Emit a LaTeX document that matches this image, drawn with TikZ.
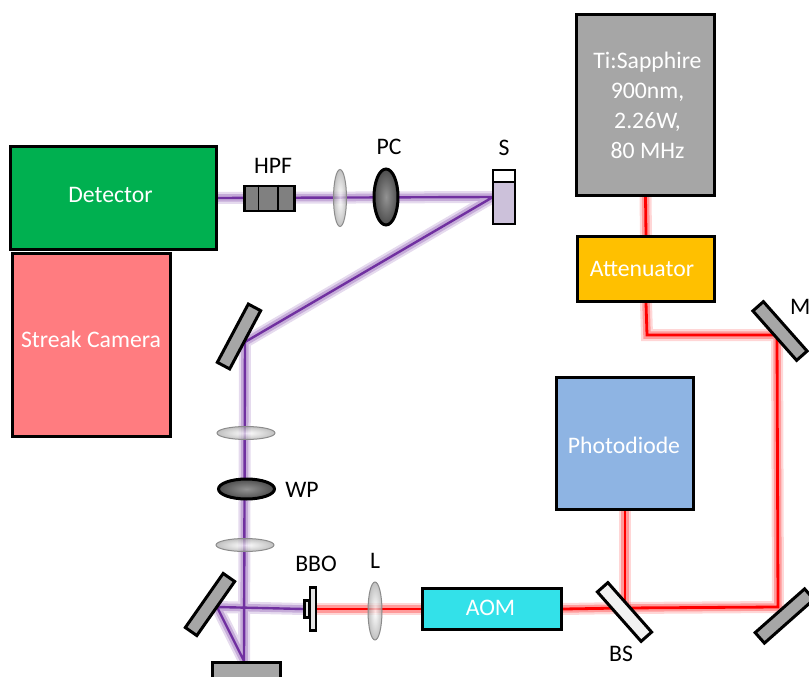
\documentclass[tikz,border=0pt]{standalone}
\usepackage{fontspec}
\setmainfont{Carlito}
\usetikzlibrary{shapes.geometric,backgrounds}
\definecolor{boxgray}{HTML}{A6A6A6}
\definecolor{attencol}{HTML}{FFC000}
\definecolor{pdcol}{HTML}{8EB4E3}
\definecolor{aomcol}{HTML}{33E1E9}
\definecolor{detcol}{HTML}{00B050}
\definecolor{streakcol}{HTML}{FF7C80}
\definecolor{beampurple}{HTML}{7030A0}
\definecolor{cuvcol}{HTML}{CCC1DA}
\tikzset{>=latex}
\tikzset{
    box/.style={draw=black,line width=3pt,inner sep=0pt},
    boxtxt/.style={inner sep=0pt,text=white,align=center,font=\fontsize{23.7}{29.8}\selectfont},
    lbl/.style={inner sep=0pt,font=\fontsize{23.7}{29.5}\selectfont},
    mirror/.style={draw=black,line width=3pt,fill=boxgray,inner sep=0pt,minimum width=66pt,minimum height=14pt},
    lens/.style={ellipse,draw=gray!90,line width=1pt,inner sep=0pt,inner color=white,outer color=gray!70,fill opacity=0.7},
    darklens/.style={ellipse,draw=black,line width=3pt,inner sep=0pt,inner color=gray!85,outer color=black!70},
    redbeam/.style={preaction={draw=red,opacity=0.16,line width=12pt},preaction={draw=red,opacity=0.28,line width=7.5pt},draw=red,line width=2.8pt},
    purplebeam/.style={preaction={draw=beampurple,opacity=0.18,line width=12pt},preaction={draw=beampurple,opacity=0.28,line width=7.5pt},draw=beampurple,line width=2.4pt}
}
\begin{document}
\begin{tikzpicture}[x=1pt,y=-1pt]
    \useasboundingbox (0,0) rectangle (809,677);
    \node[box,fill=boxgray,minimum width=138pt,minimum height=181pt] (ti) at (645.5,105) {};
    \node[box,fill=attencol,minimum width=137pt,minimum height=65pt] (atten) at (646,269) {};
    \node[box,fill=pdcol,minimum width=137pt,minimum height=132pt] (pd) at (625,443.5) {};
    \node[box,fill=aomcol,minimum width=139pt,minimum height=41pt] (aom) at (492,609) {};
    \node[box,fill=detcol,minimum width=206pt,minimum height=103pt] (det) at (113.5,198) {};
    \node[box,fill=streakcol,minimum width=158pt,minimum height=183pt] (streak) at (91.5,345) {};
    \node[boxtxt] (titxt) at (647.5,105.5) {Ti:Sapphire\\900nm,\\2.26W,\\80 MHz};
    \node[boxtxt] (attentxt) at (642,269) {Attenuator};
    \node[boxtxt] (pdtxt) at (624,445) {Photodiode};
    \node[boxtxt] (aomtxt) at (490.5,608) {AOM};
    \node[boxtxt] (dettxt) at (110.5,195) {Detector};
    \node[boxtxt] (streaktxt) at (91,339) {Streak Camera};

    \node[mirror,rotate=-48.5] (mtop) at (780,331) {};
    \node[mirror,rotate=41.5] (mbot) at (784.5,616) {};
    \node[mirror,rotate=-48.5,fill=white!95!black] (bs) at (624.5,612) {};
    \node[mirror,rotate=55] (mleft) at (210,604.5) {};
    \node[mirror,rotate=62] (mup) at (239,336.5) {};
    \node[mirror,minimum width=68pt,minimum height=18pt] (mdown) at (246.5,671) {};

    \coordinate (hitMa) at (647,335);
    \coordinate (hitM) at (777,335);
    \coordinate (hitMb) at (778,607);
    \coordinate (hitBS) at (625,608);
    \coordinate (hitL) at (217,607);
    \coordinate (hitD) at (244,661);
    \coordinate (hitU) at (245,342);
    \coordinate (hitS) at (493,197);

    \node[lens,minimum width=58pt,minimum height=13pt] (lensa) at (246,433) {};
    \node[darklens,minimum width=56pt,minimum height=20pt] (wp) at (246.5,489) {};
    \node[lens,minimum width=58pt,minimum height=13pt] (lensb) at (245,545) {};
    \node[lens,minimum width=13pt,minimum height=57pt] (lensc) at (340,198) {};
    \node[darklens,minimum width=24pt,minimum height=56pt] (pc) at (386,197) {};
    \node[lens,minimum width=14pt,minimum height=58pt] (lensl) at (375,611) {};

    \node[draw=black,line width=2.8pt,fill=gray,inner sep=0pt,minimum width=50pt,minimum height=25pt] (hpf) at (269.5,198.5) {};
    \draw[line width=1.5pt] (hpf.north west)++(15.5,0) -- ++(0,25);
    \draw[line width=1.5pt] (hpf.north west)++(35,0) -- ++(0,25);

    \node[draw=black,line width=2.6pt,fill=cuvcol,inner sep=0pt,minimum width=22pt,minimum height=42pt] (s) at (504,203) {};
    \node[draw=black,line width=2.6pt,fill=white,inner sep=0pt,minimum width=22pt,minimum height=12pt] (scap) at (504,176) {};

    \node[draw=black,line width=2.2pt,fill=white!90!black,inner sep=0pt,minimum width=6pt,minimum height=43pt] (bbo) at (313,609) {};
    \node[draw=black,line width=2.2pt,fill=white!90!black,inner sep=0pt,minimum width=5pt,minimum height=17pt] (bboa) at (307,609) {};

    \begin{pgfonlayer}{background}
        \draw[redbeam] (ti.south) -- (atten.north);
        \draw[redbeam] (atten.south) -- (hitMa) -- (hitM) -- (hitMb) -- (hitBS) -- (aom.east);
        \draw[redbeam] (pd.south) -- (hitBS);
        \draw[redbeam] (aom.west) -- (bbo.east);
        \draw[purplebeam] (bboa.west) -- (hitL) -- (hitD) -- (hitU) -- (hitS) -- (det.east);
    \end{pgfonlayer}

    \node[lbl] (hpflbl) at (273,166) {HPF};
    \node[lbl] (pclbl) at (389,147) {PC};
    \node[lbl] (slbl) at (504,148) {S};
    \node[lbl] (wplbl) at (302,490) {WP};
    \node[lbl] (bbolbl) at (316,564) {BBO};
    \node[lbl] (llbl) at (375,561) {L};
    \node[lbl] (bslbl) at (621,654) {BS};
    \node[lbl,anchor=west] (mlbl) at (790,307) {M};
\end{tikzpicture}
\end{document}
